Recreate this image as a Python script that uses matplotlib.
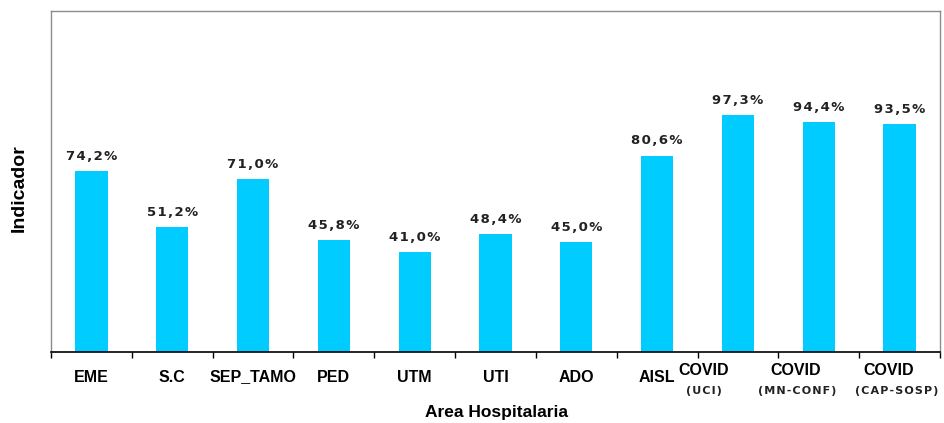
import numpy as np
import matplotlib
matplotlib.use("Agg")
import matplotlib.pyplot as plt

# areas and their indicator (%)
areas = ['EME', 'S.C', 'SEP_TAMO', 'PED', 'UTM', 'UTI', 'ADO', 'AISL',
         'COVID', 'COVID', 'COVID']
subareas = ['', '', '', '', '', '', '', '', '(UCI)', '(MN-CONF)', '(CAP-SOSP)']
valores = [74.2, 51.2, 71.0, 45.8, 41.0, 48.4, 45.0, 80.6, 97.3, 94.4, 93.5]

# horizontal nudges (px) for the two-line labels
shift_main = [0, 0, 0, 0, 0, 0, 0, 0, -34, -23, -11]
shift_sub = [0, 0, 0, 0, 0, 0, 0, 0, -34, -22, -3]

plt.rcParams['font.family'] = ['Liberation Sans', 'DejaVu Sans']

fig = plt.figure(figsize=(9.44, 4.23), dpi=100)
ax = fig.add_axes([51/944, 71/423, 889/944, 341/423])

x = np.arange(len(areas))
ax.bar(x, valores, width=0.4, color='#00CCFF', zorder=2)

ax.set_xlim(-0.5, len(areas) - 0.5)
ax.set_ylim(0, 140)

# value labels, letter spaced
hair = '\u200a'
for xi, v in zip(x, valores):
    txt = hair.join(f'{v:.1f}'.replace('.', ',') + '%')
    ax.annotate(txt, (xi, v), xytext=(0, 6), textcoords='offset points',
                ha='center', va='bottom', fontsize=9.5, fontweight='bold',
                color='#222222', family=['DejaVu Sans'])

# category labels
px = 72 / 100
for xi, name, sub, dm, ds in zip(x, areas, subareas, shift_main, shift_sub):
    if sub:
        ax.annotate(name, (xi, 0), xycoords=('data', 'axes fraction'),
                    xytext=(dm * px, -18 * px), textcoords='offset points',
                    ha='center', va='center', fontsize=11.5, fontweight='bold')
        ax.annotate(hair.join(sub), (xi, 0), xycoords=('data', 'axes fraction'),
                    xytext=(ds * px, -39 * px), textcoords='offset points',
                    ha='center', va='center', fontsize=8, fontweight='bold',
                    color='#222222', family=['DejaVu Sans'])
    else:
        ax.annotate(name, (xi, 0), xycoords=('data', 'axes fraction'),
                    xytext=(dm * px, -25 * px), textcoords='offset points',
                    ha='center', va='center', fontsize=11.5, fontweight='bold')

ax.set_xticks(np.arange(len(areas) + 1) - 0.5)
ax.set_xticklabels([])
ax.tick_params(axis='x', direction='out', length=4, width=1, color='black')
ax.set_yticks([])

for s in ['left', 'top', 'right']:
    ax.spines[s].set_color('#8c8c8c')
    ax.spines[s].set_linewidth(1)
ax.spines['bottom'].set_color('black')
ax.spines['bottom'].set_linewidth(1.2)

fig.text(496/944, 1 - 412/423, 'Area Hospitalaria',
         ha='center', va='center', fontsize=12.5, fontweight='bold')
fig.text(19/944, 1 - 188/423, 'Indicador', ha='center', va='center',
         rotation=90, fontsize=14, fontweight='bold')

fig.savefig('out.png', dpi=100)
